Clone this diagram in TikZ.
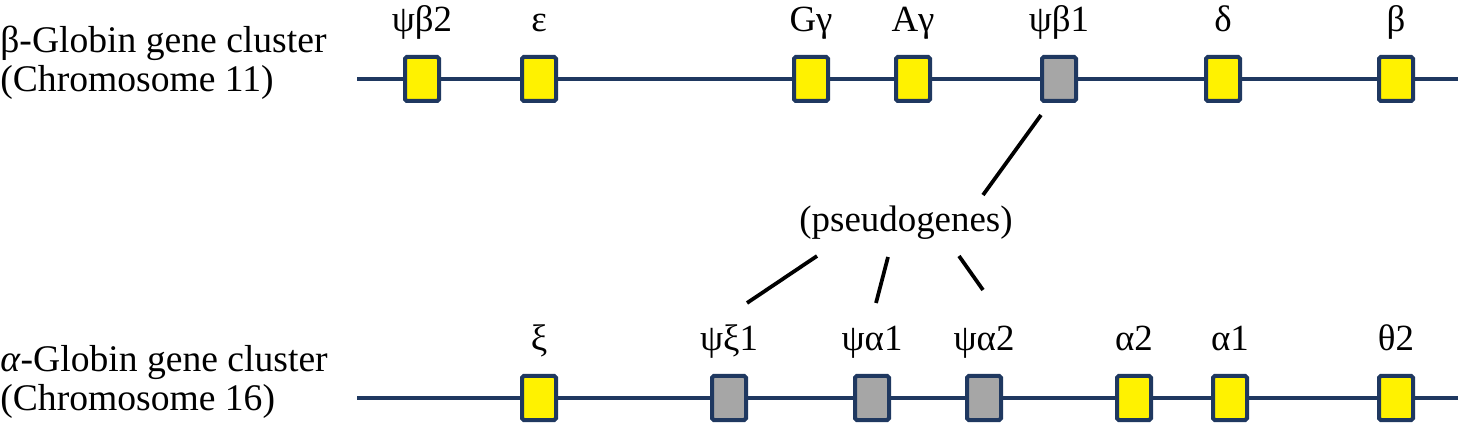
\documentclass[tikz,border=0pt]{standalone}
\usepackage{fontspec}
\setmainfont{Liberation Serif}
\definecolor{chromblue}{RGB}{31,56,96}
\definecolor{genegrey}{RGB}{166,166,166}

\begin{document}
\begin{tikzpicture}[
    chrom/.style={draw=chromblue, line width=0.08cm},
    gene/.style={draw=chromblue, fill=yellow, line width=0.08cm, rounded corners=1pt,
      minimum width=0.68cm, minimum height=0.88cm, inner sep=0pt},
    pseudo/.style={gene, fill=genegrey},
    glabel/.style={anchor=base, inner sep=0pt, font=\fontsize{21}{25}\selectfont},
    clabel/.style={glabel, anchor=base west, font=\fontsize{21.4}{25}\selectfont},
    stem/.style={line width=0.075cm}
  ]
  \useasboundingbox (0, 0) rectangle (29.34, 8.46);

  % cluster names
  \node[clabel] (bname) at (0, 7.40) {β-Globin gene cluster};
  \node[clabel] (bchr) at (0, 6.62) {(Chromosome 11)};
  \node[clabel] (aname) at (0, 1.04) {\textit{α}-Globin gene cluster};
  \node[clabel] (achr) at (0, 0.26) {(Chromosome 16)};

  % chromosomes
  \coordinate (btop0) at (7.14, 6.88);
  \coordinate (btop1) at (29.16, 6.88);
  \coordinate (abot0) at (7.14, 0.50);
  \coordinate (abot1) at (29.16, 0.50);
  \draw[chrom] (btop0) -- (btop1);
  \draw[chrom] (abot0) -- (abot1);

  % beta cluster
  \node[gene] (psib2) at (8.44, 6.88) {};
  \node[gene] (eps) at (10.78, 6.88) {};
  \node[gene] (Gg) at (16.22, 6.88) {};
  \node[gene] (Ag) at (18.26, 6.88) {};
  \node[pseudo] (psib1) at (21.18, 6.88) {};
  \node[gene] (del) at (24.46, 6.88) {};
  \node[gene] (bet) at (27.92, 6.88) {};
  \node[glabel] (psib2l) at ([yshift=.46cm]psib2.north) {ψβ2};
  \node[glabel] (epsl) at ([yshift=.46cm]eps.north) {ε};
  \node[glabel] (Ggl) at ([yshift=.46cm]Gg.north) {Gγ};
  \node[glabel] (Agl) at ([yshift=.46cm]Ag.north) {Aγ};
  \node[glabel] (psib1l) at ([yshift=.46cm]psib1.north) {ψβ1};
  \node[glabel] (dell) at ([yshift=.46cm]del.north) {δ};
  \node[glabel] (betl) at ([yshift=.46cm]bet.north) {β};

  % alpha cluster
  \node[gene] (xi) at (10.78, 0.50) {};
  \node[pseudo] (psixi1) at (14.58, 0.50) {};
  \node[pseudo] (psia1) at (17.44, 0.50) {};
  \node[pseudo] (psia2) at (19.68, 0.50) {};
  \node[gene] (a2) at (22.68, 0.50) {};
  \node[gene] (a1) at (24.60, 0.50) {};
  \node[gene] (th2) at (27.92, 0.50) {};
  \node[glabel] (xil) at ([yshift=.46cm]xi.north) {ξ};
  \node[glabel] (psixi1l) at ([yshift=.46cm]psixi1.north) {ψξ1};
  \node[glabel] (psia1l) at ([yshift=.46cm]psia1.north) {ψα1};
  \node[glabel] (psia2l) at ([yshift=.46cm]psia2.north) {ψα2};
  \node[glabel] (a2l) at ([yshift=.46cm]a2.north) {α2};
  \node[glabel] (a1l) at ([yshift=.46cm]a1.north) {α1};
  \node[glabel] (th2l) at ([yshift=.46cm]th2.north) {θ2};

  % pseudogene pointers
  \node[glabel] (pg) at (18.12, 3.82) {(pseudogenes)};
  \draw[stem] ([shift={(-.36,-.24)}]psib1.south) -- ([shift={(1.54,.74)}]pg.base);
  \draw[stem] ([shift={(-1.78,-.48)}]pg.base) -- ([shift={(.36,.96)}]psixi1l.base);
  \draw[stem] ([shift={(-.36,-.50)}]pg.base) -- ([shift={(.08,.96)}]psia1l.base);
  \draw[stem] ([shift={(1.06,-.48)}]pg.base) -- ([shift={(-.02,1.22)}]psia2l.base);
\end{tikzpicture}
\end{document}
